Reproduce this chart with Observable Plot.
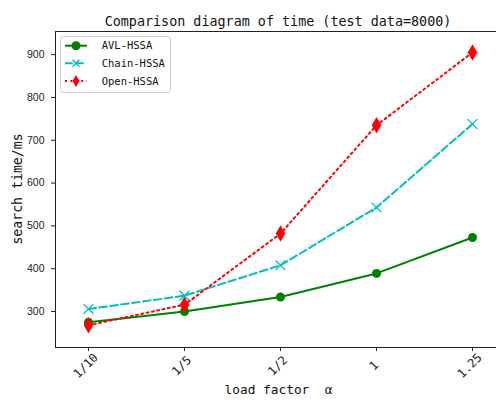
<!DOCTYPE html>
<html>
<head>
<meta charset="utf-8">
<script src="https://cdn.jsdelivr.net/npm/d3@7"></script>
<script src="https://cdn.jsdelivr.net/npm/@observablehq/plot@0.6"></script>
<style>
  html, body { margin: 0; padding: 0; background: #fff; }
  #chart svg { display: block; overflow: visible; }
</style>
</head>
<body>
<div id="chart"></div>
<script>
const categories = ["1/10", "1/5", "1/2", "1", "1.25"];
const avlHSSA = [275, 300, 334, 389, 473];
const chainHSSA = [306, 337, 408, 543, 738];
const openHSSA = [268, 316, 482, 735, 905];
const yTicks = [300, 400, 500, 600, 700, 800, 900];
const seriesNames = ["AVL-HSSA", "Chain-HSSA", "Open-HSSA"];
const titleText = "Comparison diagram of time (test data=8000)";
const xLabel = "load factor  α";
const yLabel = "search time/ms";

const colors = { "AVL-HSSA": "#008000", "Chain-HSSA": "#00bfbf", "Open-HSSA": "#ff0000" };
const mono = "'DejaVu Sans Mono', monospace";
const sans = "'Liberation Sans', Arial, sans-serif";

const rows = [];
[avlHSSA, chainHSSA, openHSSA].forEach((vals, i) => {
  vals.forEach((v, j) => rows.push({ series: seriesNames[i], cat: categories[j], value: v }));
});
const sel = (name) => rows.filter(d => d.series === name);

const plot = Plot.plot({
  width: 496,
  height: 401,
  marginLeft: 55,
  marginRight: -8,
  marginTop: 31,
  marginBottom: 54,
  style: { fontFamily: sans, fontSize: "10.5px", color: "#222", background: "#fff", overflow: "visible" },
  x: { type: "point", domain: categories, padding: 0.32 },
  y: { domain: [216, 954] },
  marks: [
    Plot.axisY({ ticks: yTicks, tickSize: 4, tickPadding: 7, label: null, fontSize: 10.5, fontFamily: sans, stroke: "#222" }),
    Plot.axisX({ tickSize: 4, tickFormat: () => "", label: null, stroke: "#222" }),
    Plot.text(categories, { x: d => d, frameAnchor: "bottom", dy: 21, rotate: -45, text: d => d, fontFamily: mono, fontSize: 12, fill: "#222", textAnchor: "middle" }),
    Plot.line(sel("AVL-HSSA"), { x: "cat", y: "value", stroke: colors["AVL-HSSA"], strokeWidth: 2 }),
    Plot.dot(sel("AVL-HSSA"), { x: "cat", y: "value", fill: colors["AVL-HSSA"], r: 4.5, symbol: "circle" }),
    Plot.line(sel("Chain-HSSA"), { x: "cat", y: "value", stroke: colors["Chain-HSSA"], strokeWidth: 2, strokeDasharray: "7.7,3.3" }),
    Plot.dot(sel("Chain-HSSA"), { x: "cat", y: "value", stroke: colors["Chain-HSSA"], r: 4.5, symbol: "times", strokeWidth: 1.3 }),
    Plot.line(sel("Open-HSSA"), { x: "cat", y: "value", stroke: colors["Open-HSSA"], strokeWidth: 2, strokeDasharray: "2,3.4" }),
    Plot.dot(sel("Open-HSSA"), { x: "cat", y: "value", fill: colors["Open-HSSA"], r: 5, symbol: "diamond" }),
    Plot.frame({ stroke: "#222", strokeWidth: 1 }),
    Plot.text([titleText], { frameAnchor: "top", dy: -15, dx: -2, text: d => d, fontFamily: mono, fontSize: 13.4, fill: "#111" }),
    Plot.text([xLabel], { frameAnchor: "bottom", dy: 46, dx: -1.5, text: d => d, fontFamily: mono, fontSize: 12.8, fill: "#111" })
  ]
});

document.getElementById("chart").appendChild(plot);

const svg = d3.select(plot);

// Y axis label
svg.append("text")
  .attr("transform", "translate(17,189) rotate(-90)")
  .attr("text-anchor", "middle").attr("dy", "0.35em")
  .attr("font-family", mono).attr("font-size", 13.2).attr("fill", "#111")
  .text(yLabel);

// Legend
const lg = svg.append("g").attr("transform", "translate(60,36)");
lg.append("rect").attr("x", 0.5).attr("y", 0.5).attr("width", 110).attr("height", 56).attr("rx", 3)
  .attr("fill", "#ffffff").attr("fill-opacity", 0.85).attr("stroke", "#cccccc").attr("stroke-width", 1);
const legendStyles = [
  { dash: null, marker: "circle" },
  { dash: "7.7,3.3", marker: "times" },
  { dash: "2,3.4", marker: "diamond" }
];
seriesNames.forEach((name, i) => {
  const y = 9.7 + i * 17.6;
  const c = colors[name];
  const st = legendStyles[i];
  const ln = lg.append("line").attr("x1", 5).attr("x2", 27).attr("y1", y).attr("y2", y)
    .attr("stroke", c).attr("stroke-width", 2);
  if (st.dash) ln.attr("stroke-dasharray", st.dash);
  const mx = 16;
  if (st.marker === "circle") {
    lg.append("circle").attr("cx", mx).attr("cy", y).attr("r", 4.5).attr("fill", c);
  } else if (st.marker === "times") {
    lg.append("path").attr("d", `M${mx-3.5},${y-3.5}L${mx+3.5},${y+3.5}M${mx-3.5},${y+3.5}L${mx+3.5},${y-3.5}`)
      .attr("stroke", c).attr("stroke-width", 1.3).attr("fill", "none");
  } else {
    lg.append("path").attr("d", `M${mx},${y-6}L${mx+3.5},${y}L${mx},${y+6}L${mx-3.5},${y}Z`).attr("fill", c);
  }
  lg.append("text").attr("x", 41.7).attr("y", y).attr("dy", "0.35em").attr("text-anchor", "start")
    .attr("font-family", mono).attr("font-size", 10.5).attr("fill", "#111").text(name);
});
</script>
</body>
</html>
